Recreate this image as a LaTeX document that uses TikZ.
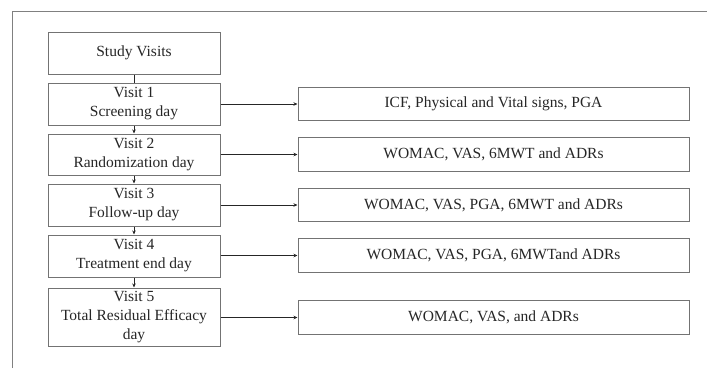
\documentclass[tikz,border=0pt]{standalone}
\usepackage{fontspec}
\setmainfont{Liberation Serif}
\usetikzlibrary{arrows.meta}
\begin{document}
\begin{tikzpicture}[x=1pt,y=-1pt,
  every node/.style={font=\fontsize{15.5}{19}\selectfont, text=black!85},
  lbox/.style={draw=black!55, line width=1pt, minimum width=172pt, align=center, inner sep=0pt},
  rbox/.style={draw=black!55, line width=1pt, minimum width=391pt, minimum height=33.5pt, inner sep=0pt},
  conn/.style={draw=black!85, line width=1pt},
  arr/.style={conn, -{Stealth[length=4pt,width=3.5pt]}}]
\useasboundingbox (0,0) rectangle (707,368);
\draw[black!50, line width=1pt] (12,368) -- (12,11.5) -- (707,11.5);
\node[lbox, minimum height=42pt] (s) at (134,53) {Study Visits};
\node[lbox, minimum height=42pt] (v1) at (134,104) {Visit 1\\Screening day};
\node[lbox, minimum height=41pt] (v2) at (134,154.5) {Visit 2\\Randomization day};
\node[lbox, minimum height=42pt] (v3) at (134,205) {Visit 3\\Follow-up day};
\node[lbox, minimum height=42pt] (v4) at (134,256) {Visit 4\\Treatment end day};
\node[lbox, minimum height=58pt] (v5) at (134,317) {Visit 5\\Total Residual Efficacy\\day};
\node[rbox] (r1) at (493.5,104) {ICF, Physical and Vital signs, PGA};
\node[rbox] (r2) at (493.5,154.5) {WOMAC, VAS, 6MWT and ADRs};
\node[rbox] (r3) at (493.5,205) {WOMAC, VAS, PGA, 6MWT and ADRs};
\node[rbox] (r4) at (493.5,255.5) {WOMAC, VAS, PGA, 6MWTand ADRs};
\node[rbox] (r5) at (493.5,317.5) {WOMAC, VAS, and ADRs};
\draw[conn] (s) -- (v1);
\draw[arr] (v1) -- (v2);
\draw[arr] (v2) -- (v3);
\draw[arr] (v3) -- (v4);
\draw[arr] (v4) -- (v5);
\foreach \i in {1,...,5}{\draw[arr] (v\i.east |- r\i) -- (r\i.west);}
\end{tikzpicture}
\end{document}
